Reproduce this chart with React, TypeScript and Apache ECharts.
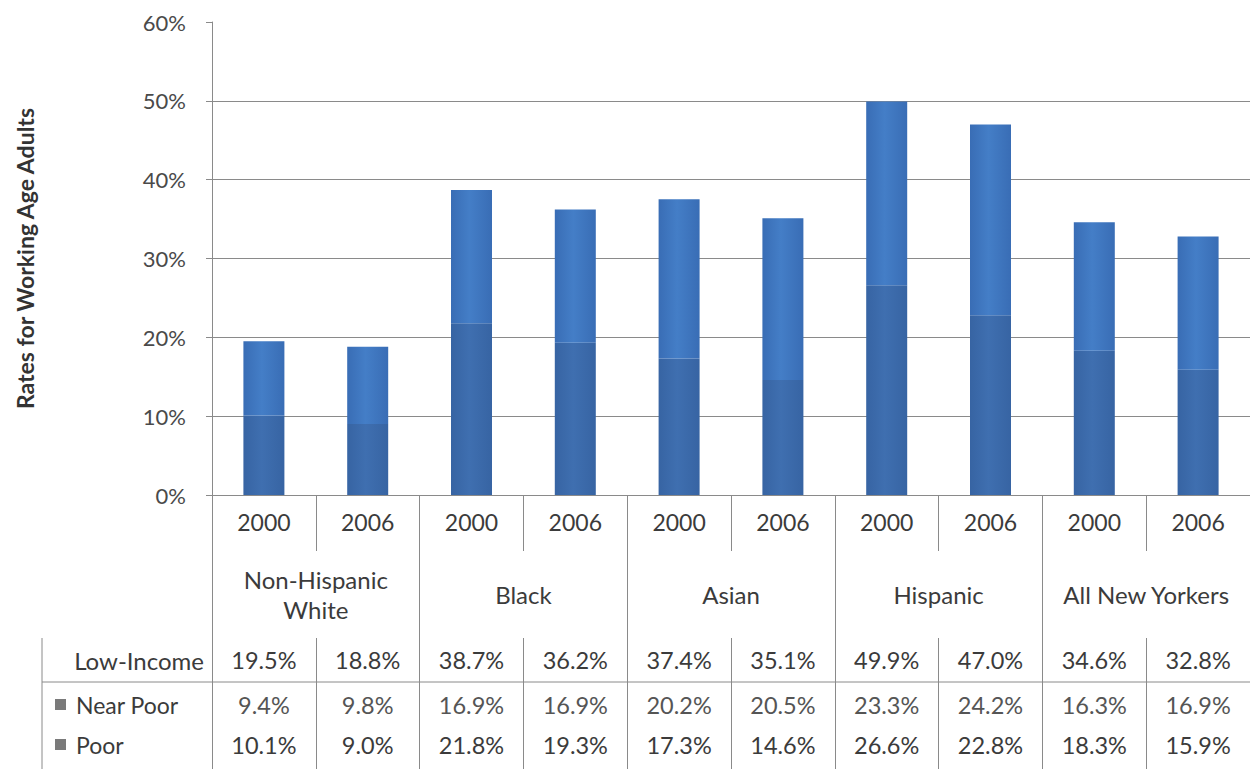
import React, { useEffect, useRef } from "react";
import * as echarts from "echarts";

const years = ["2000", "2006", "2000", "2006", "2000", "2006", "2000", "2006", "2000", "2006"];
const groups = ["Non-Hispanic\nWhite", "Black", "Asian", "Hispanic", "All New Yorkers"];
const nearPoor = [9.4, 9.8, 16.9, 16.9, 20.2, 20.5, 23.3, 24.2, 16.3, 16.9];
const poor = [10.1, 9.0, 21.8, 19.3, 17.3, 14.6, 26.6, 22.8, 18.3, 15.9];
const lowIncome = [19.5, 18.8, 38.7, 36.2, 37.4, 35.1, 49.9, 47.0, 34.6, 32.8];
const rowLabels = ["Low-Income", "Near Poor", "Poor"];
const yAxisTitle = "Rates for Working Age Adults";

const FONT = "Lato, 'Open Sans', sans-serif";
const TEXT = "#3b3b3b";
const LINE = "#8a8a8a";

const fmt = (v: number) => v.toFixed(1) + "%";

export default function App() {
  const ref = useRef<HTMLDivElement>(null);

  useEffect(() => {
    if (!ref.current) return;
    const chart = echarts.init(ref.current, undefined, { renderer: "svg" });

    const barGrad = (edge: string, mid: string) =>
      new echarts.graphic.LinearGradient(0, 0, 1, 0, [
        { offset: 0, color: edge },
        { offset: 0.45, color: mid },
        { offset: 1, color: edge },
      ]);

    const gridTop = 22;
    const gridBottomY = 495;
    const H = 769;

    const tableAxisBase = {
      type: "category" as const,
      gridIndex: 0,
      position: "bottom" as const,
      boundaryGap: true,
      axisLine: { show: false },
      axisTick: { show: false },
      splitLine: { show: false },
      silent: true,
    };

    chart.setOption({
      animation: false,
      textStyle: { fontFamily: FONT },
      grid: { left: 212, top: gridTop, width: 1038, height: gridBottomY - gridTop, containLabel: false },
      legend: {
        orient: "vertical",
        left: 50,
        top: 687,
        itemWidth: 11,
        itemHeight: 11,
        itemGap: 15,
        icon: "rect",
        selectedMode: false,
        textStyle: { fontSize: 23, color: TEXT, fontFamily: FONT, lineHeight: 25, padding: [0, 0, 0, 5] },
        data: [
          { name: "Near Poor", itemStyle: { color: "#7a7a7a" } },
          { name: "Poor", itemStyle: { color: "#7a7a7a" } },
        ],
      },
      xAxis: [
        {
          type: "category",
          data: years,
          position: "bottom",
          boundaryGap: true,
          axisLine: { show: true, lineStyle: { color: LINE, width: 1 } },
          axisTick: { show: true, interval: 0, length: 56, lineStyle: { color: LINE } },
          axisLabel: {
            interval: 0,
            margin: 27,
            verticalAlign: "middle",
            fontSize: 23,
            color: TEXT,
            fontFamily: FONT,
          },
        },
        {
          ...tableAxisBase,
          data: groups,
          axisTick: { show: true, interval: 0, length: H - gridBottomY, lineStyle: { color: LINE } },
          axisLabel: {
            interval: 0,
            margin: 99,
            verticalAlign: "middle",
            lineHeight: 30,
            fontSize: 24,
            color: TEXT,
            fontFamily: FONT,
          },
        },
        {
          ...tableAxisBase,
          data: lowIncome.map(fmt),
          offset: 143,
          axisTick: { show: true, interval: 0, length: H - gridBottomY - 143, lineStyle: { color: LINE } },
          axisLabel: { interval: 0, margin: 22, verticalAlign: "middle", fontSize: 23.5, color: TEXT, fontFamily: FONT },
        },
        {
          ...tableAxisBase,
          data: nearPoor.map(fmt),
          axisLabel: { interval: 0, margin: 210, verticalAlign: "middle", fontSize: 23.5, color: "#555555", fontFamily: FONT },
        },
        {
          ...tableAxisBase,
          data: poor.map(fmt),
          axisLabel: { interval: 0, margin: 250, verticalAlign: "middle", fontSize: 23.5, color: TEXT, fontFamily: FONT },
        },
      ],
      yAxis: {
        type: "value",
        min: 0,
        max: 60,
        interval: 10,
        name: yAxisTitle,
        nameLocation: "middle",
        nameRotate: 90,
        nameGap: 176,
        nameTextStyle: { fontSize: 23, fontWeight: "bold", color: "#333333", fontFamily: FONT },
        axisLine: { show: true, lineStyle: { color: LINE } },
        axisTick: { show: true, length: 6, lineStyle: { color: LINE } },
        axisLabel: { formatter: "{value}%", margin: 26, fontSize: 22, color: "#4a4a4a", fontFamily: FONT },
        splitLine: { show: true, showMaxLine: false, lineStyle: { color: LINE, width: 1 } },
      },
      series: [
        {
          name: "Poor",
          type: "bar",
          stack: "total",
          xAxisIndex: 0,
          barWidth: 41,
          itemStyle: { color: barGrad("#3764a3", "#3f6fb0") },
          data: poor,
        },
        {
          name: "Near Poor",
          type: "bar",
          stack: "total",
          xAxisIndex: 0,
          barWidth: 41,
          itemStyle: { color: barGrad("#396db5", "#447ec7") },
          data: nearPoor,
        },
      ],
      graphic: [
        {
          type: "line",
          shape: { x1: 42, y1: 682, x2: 1250, y2: 682 },
          style: { stroke: LINE, lineWidth: 1 },
          silent: true,
        },
        {
          type: "line",
          shape: { x1: 42, y1: 638, x2: 42, y2: H },
          style: { stroke: LINE, lineWidth: 1 },
          silent: true,
        },
        {
          type: "text",
          x: 204,
          y: 660,
          style: {
            text: rowLabels[0],
            fontSize: 24,
            fontFamily: FONT,
            fill: TEXT,
            align: "right",
            verticalAlign: "middle",
          },
          silent: true,
        },
      ],
    });

    return () => chart.dispose();
  }, []);

  return (
    <div
      ref={ref}
      style={{ position: "fixed", left: 0, top: 0, width: 1250, height: 769, background: "#ffffff" }}
    />
  );
}
